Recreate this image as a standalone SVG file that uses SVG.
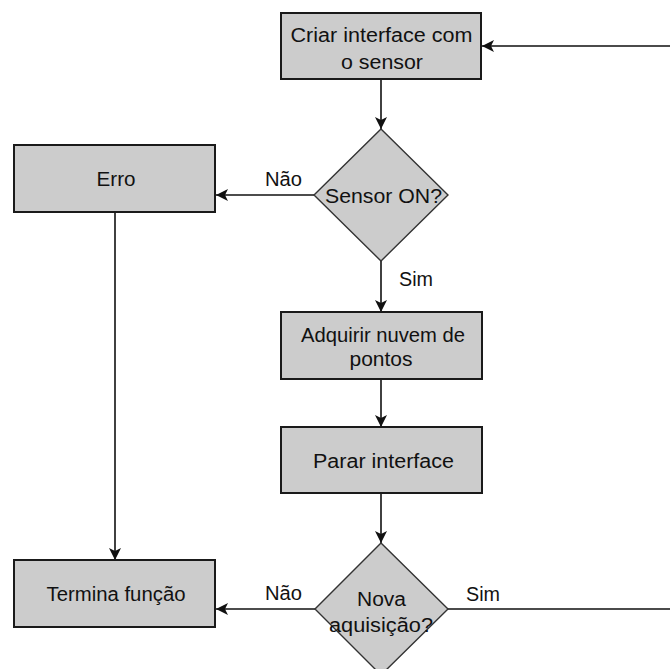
<svg xmlns="http://www.w3.org/2000/svg" width="670" height="669" viewBox="0 0 670 669">
<defs>
<style>
.box{fill:#cccccc;stroke:#1a1a1a;stroke-width:2}
.dia{fill:#cccccc;stroke:#333333;stroke-width:1.4}
.lbl{font-family:"Liberation Sans",Arial,sans-serif;font-size:20px;fill:#111111;text-anchor:middle}
.edge{fill:none;stroke:#111111;stroke-width:1.6}
.elbl{font-family:"Liberation Sans",Arial,sans-serif;font-size:20px;fill:#111111}
</style>
<marker id="arr" viewBox="0 0 12 12" refX="12" refY="6" markerWidth="12" markerHeight="12" markerUnits="userSpaceOnUse" orient="auto">
<path d="M0,0 L12,6 L0,12 L3,6 Z" fill="#111111"/>
</marker>
</defs>
<rect width="670" height="669" fill="#ffffff"/>
<g id="connectors">
<path class="edge" d="M381,80 V129" marker-end="url(#arr)"/>
<path class="edge" d="M314,195 H216" marker-end="url(#arr)"/>
<path class="edge" d="M381,261 V312" marker-end="url(#arr)"/>
<path class="edge" d="M381,379 V427" marker-end="url(#arr)"/>
<path class="edge" d="M381,493 V543" marker-end="url(#arr)"/>
<path class="edge" d="M315,609 H216" marker-end="url(#arr)"/>
<path class="edge" d="M115,212 V560" marker-end="url(#arr)"/>
<path class="edge" d="M448,609 H700 V46 H482" marker-end="url(#arr)"/>
<text class="elbl" x="265" y="186" textLength="37" lengthAdjust="spacingAndGlyphs">Não</text>
<text class="elbl" x="399" y="286" textLength="34" lengthAdjust="spacingAndGlyphs">Sim</text>
<text class="elbl" x="265" y="600" textLength="37" lengthAdjust="spacingAndGlyphs">Não</text>
<text class="elbl" x="466" y="601" textLength="34" lengthAdjust="spacingAndGlyphs">Sim</text>
</g>
<g id="criar">
<rect class="box" x="281" y="13" width="200" height="66"/>
<text class="lbl" x="381.5" y="42" textLength="182" lengthAdjust="spacingAndGlyphs">Criar interface com</text>
<text class="lbl" x="382" y="69" textLength="82" lengthAdjust="spacingAndGlyphs">o sensor</text>
</g>
<g id="sensor">
<polygon class="dia" points="381,129 448,195 381,261 314,195"/>
<text class="lbl" x="383.5" y="203" textLength="117" lengthAdjust="spacingAndGlyphs">Sensor ON?</text>
</g>
<g id="erro">
<rect class="box" x="14" y="145" width="201" height="67"/>
<text class="lbl" x="116" y="186" textLength="39" lengthAdjust="spacingAndGlyphs">Erro</text>
</g>
<g id="adquirir">
<rect class="box" x="281" y="312" width="201" height="67"/>
<text class="lbl" x="383" y="342" textLength="164" lengthAdjust="spacingAndGlyphs">Adquirir nuvem de</text>
<text class="lbl" x="381" y="366" textLength="63" lengthAdjust="spacingAndGlyphs">pontos</text>
</g>
<g id="parar">
<rect class="box" x="281" y="427" width="201" height="66"/>
<text class="lbl" x="383.5" y="467.5" textLength="141" lengthAdjust="spacingAndGlyphs">Parar interface</text>
</g>
<g id="nova">
<polygon class="dia" points="381,543 448,609 381,675 315,609"/>
<text class="lbl" x="381.5" y="606" textLength="49" lengthAdjust="spacingAndGlyphs">Nova</text>
<text class="lbl" x="381" y="632" textLength="104" lengthAdjust="spacingAndGlyphs">aquisição?</text>
</g>
<g id="termina">
<rect class="box" x="14" y="560" width="201" height="67"/>
<text class="lbl" x="116" y="601" textLength="139" lengthAdjust="spacingAndGlyphs">Termina função</text>
</g>
</svg>
